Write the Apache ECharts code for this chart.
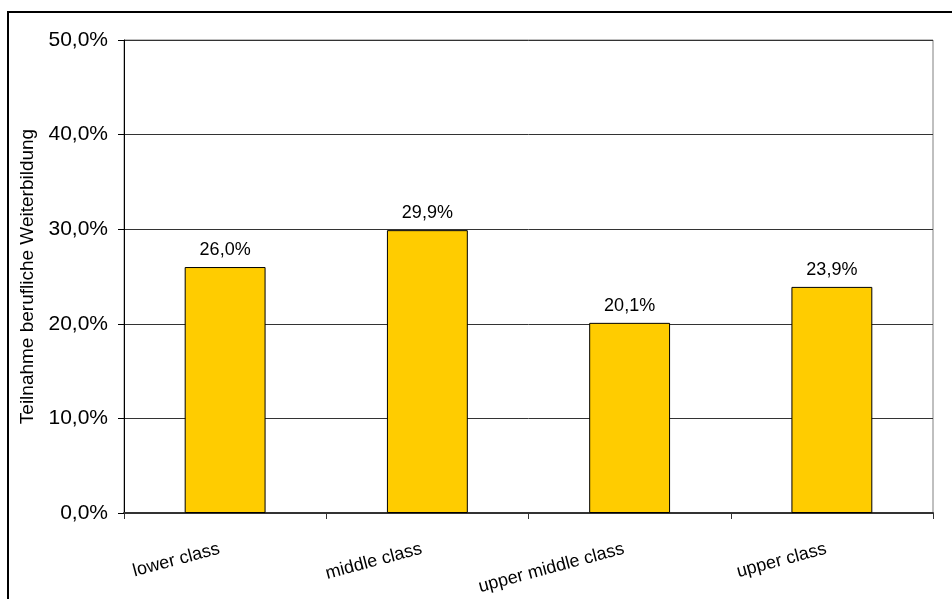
<!DOCTYPE html>
<html>
<head>
<meta charset="utf-8">
<script src="https://cdn.jsdelivr.net/npm/echarts@6/dist/echarts.min.js"></script>
<style>
  html, body { margin: 0; padding: 0; background: #fff; }
  #chart { width: 952px; height: 599px; }
</style>
</head>
<body>
<div id="chart"></div>
<script>
// Participation in job-related further training by social class
const categories = ['lower class', 'middle class', 'upper middle class', 'upper class'];
const participation = [26.0, 29.9, 20.1, 23.9];
const yTicks = [0, 10, 20, 30, 40, 50];
const yTitle = 'Teilnahme berufliche Weiterbildung';

const fmt = v => v.toFixed(1).replace('.', ',') + '%';
const FONT = '"Liberation Sans", Arial, sans-serif';

const chart = echarts.init(document.getElementById('chart'), null, { renderer: 'canvas' });
chart.setOption({
  animation: false,
  backgroundColor: '#fff',
  graphic: [{
    type: 'rect',
    shape: { x: 8, y: 12, width: 970, height: 620 },
    style: { fill: 'none', stroke: '#000', lineWidth: 2 },
    silent: true,
    z: 0
  }],
  grid: {
    left: 124, top: 40, right: 19, bottom: 86, containLabel: false,
    show: true, borderColor: '#808080', borderWidth: 1, backgroundColor: 'transparent'
  },
  xAxis: {
    type: 'category',
    data: categories,
    boundaryGap: true,
    axisLine: { show: true, lineStyle: { color: '#333', width: 2 } },
    axisTick: { show: true, length: 6, lineStyle: { color: '#333', width: 1 } },
    axisLabel: {
      rotate: 15,
      margin: 34,
      padding: [0, 6, 0, 0],
      color: '#000',
      fontFamily: FONT,
      fontSize: 18,
      interval: 0
    },
    splitLine: { show: false }
  },
  yAxis: {
    type: 'value',
    min: yTicks[0],
    max: yTicks[yTicks.length - 1],
    interval: 10,
    name: yTitle,
    nameLocation: 'middle',
    nameGap: 82,
    nameTextStyle: { color: '#000', fontFamily: FONT, fontSize: 19 },
    axisLine: { show: true, lineStyle: { color: '#000', width: 1 } },
    axisTick: { show: true, inside: false, length: 6, lineStyle: { color: '#000' } },
    axisLabel: {
      formatter: v => fmt(v),
      color: '#000',
      fontFamily: FONT,
      fontSize: 21,
      margin: 16
    },
    splitLine: { show: true, lineStyle: { color: '#333', width: 1 } }
  },
  series: [{
    type: 'bar',
    data: participation,
    barWidth: '40%',
    itemStyle: { color: '#FFCC00', borderColor: '#000', borderWidth: 1 },
    label: {
      show: true,
      position: 'top',
      distance: 8,
      formatter: p => fmt(p.value),
      color: '#000',
      fontFamily: FONT,
      fontSize: 18
    }
  }]
});
</script>
</body>
</html>
